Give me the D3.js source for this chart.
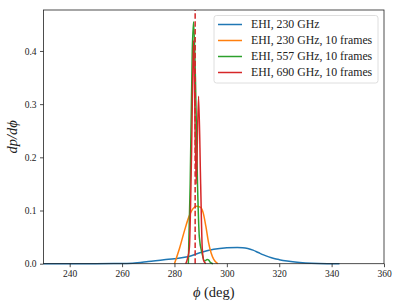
<!DOCTYPE html>
<html>
<head>
<meta charset="utf-8">
<script src="https://cdn.jsdelivr.net/npm/d3@7"></script>
<style>
  body { margin: 0; background: #fff; }
  text { font-family: "Liberation Serif", "DejaVu Serif", serif; }
</style>
</head>
<body>
<div id="figure"></div>
<script>
'use strict';

const seriesNames = ['EHI, 230 GHz', 'EHI, 230 GHz, 10 frames', 'EHI, 557 GHz, 10 frames', 'EHI, 690 GHz, 10 frames'];
const seriesColors = ['#1f77b4', '#ff7f0e', '#2ca02c', '#d62728'];

const blue = [[230, 0], [250, 0], [258, 0.0003], [264, 0.001], [270, 0.004], [276, 0.0075], [280, 0.0094],
  [285, 0.013], [290, 0.021], [295, 0.027], [300, 0.0298], [304, 0.0305], [306, 0.0302], [308, 0.0287],
  [310, 0.0255], [312, 0.021], [314, 0.0165], [316, 0.0128], [318, 0.0098], [320, 0.0076], [323, 0.005],
  [326, 0.0031], [330, 0.0015], [335, 0.0005], [343, 0]];
const orange = [[280, 0], [282, 0.03], [284, 0.065], [285.5, 0.088], [287, 0.103], [288.5, 0.108], [290, 0.106],
  [291, 0.095], [292, 0.07], [293, 0.04], [294, 0.02], [295, 0.008], [296.5, 0]];
const green = [[285.3, 0], [286, 0.15], [286.8, 0.4], [287.3, 0.455], [288, 0.35], [288.8, 0.15], [289.5, 0.05],
  [290.5, 0.02], [291.5, 0.005], [292.5, 0.008], [293, 0.007], [293.8, 0.002], [294.7, 0]];
const red = [[284.3, 0], [285, 0.01], [285.7, 0.03], [286.5, 0.2], [287.3, 0.42], [288.3, 0.15], [289.2, 0.315],
  [290, 0.15], [290.6, 0.03], [291.2, 0.005], [292, 0]];
const series = [blue, orange, green, red];

const truthPhi = 287.9;
const xTicks = [240, 260, 280, 300, 320, 340, 360];
const yTicks = [0.0, 0.1, 0.2, 0.3, 0.4];

const width = 398;
const height = 304;
const margin = { left: 43.5, right: 14, top: 10, bottom: 40.3 };

const x = d3.scaleLinear()
  .domain([230, 360])
  .range([margin.left, width - margin.right]);

const y = d3.scaleLinear()
  .domain([0, 0.477])
  .range([height - margin.bottom, margin.top]);

const svg = d3.select('div#figure')
  .append('svg')
  .attr('width', width)
  .attr('height', height);

const line = d3.line()
  .curve(d3.curveMonotoneX)
  .x(d => x(d[0]))
  .y(d => y(d[1]));

series.forEach((s, i) => {
  svg.append('path')
    .datum(s)
    .attr('fill', 'none')
    .attr('stroke', seriesColors[i])
    .attr('stroke-width', 1.5)
    .attr('stroke-linejoin', 'round')
    .attr('d', line);
});

svg.append('line')
  .attr('x1', x(truthPhi)).attr('x2', x(truthPhi))
  .attr('y1', y.range()[0]).attr('y2', y.range()[1])
  .attr('stroke', '#d62728')
  .attr('stroke-width', 1.5)
  .attr('stroke-dasharray', '5.5,2.4');

const xAxis = svg.append('g')
  .attr('transform', `translate(0, ${height - margin.bottom})`)
  .call(d3.axisBottom(x).tickValues(xTicks).tickSize(3.5).tickSizeOuter(0).tickPadding(3));

const yAxis = svg.append('g')
  .attr('transform', `translate(${margin.left}, 0)`)
  .call(d3.axisLeft(y).tickValues(yTicks).tickFormat(d3.format('.1f')).tickSize(3.5).tickSizeOuter(0).tickPadding(3.5));

[xAxis, yAxis].forEach(a => {
  a.select('.domain').remove();
  a.selectAll('text').attr('font-size', 9.5).attr('fill', '#222').attr('font-family', '"Liberation Serif", serif');
  a.selectAll('line').attr('stroke', '#222').attr('stroke-width', 0.8);
});

svg.append('rect')
  .attr('x', margin.left)
  .attr('y', margin.top)
  .attr('width', width - margin.right - margin.left)
  .attr('height', height - margin.bottom - margin.top)
  .attr('fill', 'none')
  .attr('stroke', '#222')
  .attr('stroke-width', 0.8);

svg.append('text')
  .attr('x', (margin.left + width - margin.right) / 2)
  .attr('y', 297)
  .attr('text-anchor', 'middle')
  .attr('font-size', 14.5)
  .attr('fill', '#222')
  .html('<tspan font-style="italic">ϕ</tspan> (deg)');

svg.append('text')
  .attr('transform', `translate(17, ${(margin.top + height - margin.bottom) / 2}) rotate(-90)`)
  .attr('text-anchor', 'middle')
  .attr('font-size', 14.5)
  .attr('font-style', 'italic')
  .attr('fill', '#222')
  .text('dp/dϕ');

const legend = svg.append('g');
legend.append('rect')
  .attr('x', 214).attr('y', 15.5)
  .attr('width', 164).attr('height', 67.5)
  .attr('rx', 2.5)
  .attr('fill', '#fff')
  .attr('fill-opacity', 0.8)
  .attr('stroke', '#d5d5d5')
  .attr('stroke-width', 0.8);

seriesNames.forEach((name, i) => {
  const ly = 24.5 + i * 16;
  legend.append('line')
    .attr('x1', 218).attr('x2', 242)
    .attr('y1', ly).attr('y2', ly)
    .attr('stroke', seriesColors[i])
    .attr('stroke-width', 1.5);
  legend.append('text')
    .attr('x', 251)
    .attr('y', ly + 3.8)
    .attr('font-size', 11.8)
    .attr('fill', '#222')
    .text(name);
});
</script>
</body>
</html>
